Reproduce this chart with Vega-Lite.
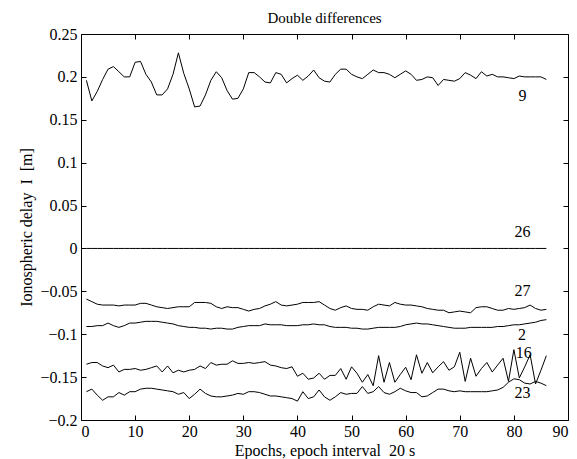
{
  "$schema": "https://vega.github.io/schema/vega-lite/v6.json",
  "width": 487,
  "height": 386,
  "autosize": "none",
  "padding": {"left": 81, "top": 34, "right": 9, "bottom": 39},
  "background": "white",
  "config": {
    "font": "Liberation Serif",
    "view": {"stroke": "black", "strokeWidth": 1},
    "axis": {
      "domain": false,
      "grid": false,
      "ticks": true,
      "tickColor": "black",
      "tickSize": -5,
      "labelPadding": 9,
      "labelFont": "Liberation Serif",
      "labelFontSize": 16,
      "labelColor": "black",
      "titleFont": "Liberation Serif",
      "titleFontSize": 16,
      "titleFontWeight": "normal",
      "titleColor": "black"
    }
  },
  "title": {"text": "Double differences", "fontSize": 15, "fontWeight": "normal", "font": "Liberation Serif", "color": "black", "anchor": "middle", "offset": 0},
  "datasets": {
    "lines": [
      {"e":1,"s9":0.196,"s26":0,"s27":-0.059,"s2":-0.091,"s16":-0.135,"s23":-0.167},
      {"e":2,"s9":0.172,"s26":0,"s27":-0.062,"s2":-0.091,"s16":-0.133,"s23":-0.164},
      {"e":3,"s9":0.183,"s26":0,"s27":-0.065,"s2":-0.090,"s16":-0.133,"s23":-0.171},
      {"e":4,"s9":0.197,"s26":0,"s27":-0.066,"s2":-0.090,"s16":-0.137,"s23":-0.177},
      {"e":5,"s9":0.209,"s26":0,"s27":-0.066,"s2":-0.087,"s16":-0.139,"s23":-0.173},
      {"e":6,"s9":0.212,"s26":0,"s27":-0.066,"s2":-0.090,"s16":-0.136,"s23":-0.173},
      {"e":7,"s9":0.206,"s26":0,"s27":-0.067,"s2":-0.092,"s16":-0.144,"s23":-0.168},
      {"e":8,"s9":0.200,"s26":0,"s27":-0.066,"s2":-0.090,"s16":-0.141,"s23":-0.171},
      {"e":9,"s9":0.200,"s26":0,"s27":-0.066,"s2":-0.087,"s16":-0.141,"s23":-0.167},
      {"e":10,"s9":0.217,"s26":0,"s27":-0.066,"s2":-0.087,"s16":-0.140,"s23":-0.167},
      {"e":11,"s9":0.218,"s26":0,"s27":-0.064,"s2":-0.086,"s16":-0.142,"s23":-0.164},
      {"e":12,"s9":0.203,"s26":0,"s27":-0.064,"s2":-0.085,"s16":-0.141,"s23":-0.163},
      {"e":13,"s9":0.194,"s26":0,"s27":-0.066,"s2":-0.085,"s16":-0.139,"s23":-0.163},
      {"e":14,"s9":0.179,"s26":0,"s27":-0.068,"s2":-0.085,"s16":-0.137,"s23":-0.164},
      {"e":15,"s9":0.179,"s26":0,"s27":-0.069,"s2":-0.086,"s16":-0.144,"s23":-0.165},
      {"e":16,"s9":0.186,"s26":0,"s27":-0.070,"s2":-0.087,"s16":-0.137,"s23":-0.166},
      {"e":17,"s9":0.203,"s26":0,"s27":-0.069,"s2":-0.088,"s16":-0.145,"s23":-0.167},
      {"e":18,"s9":0.228,"s26":0,"s27":-0.068,"s2":-0.090,"s16":-0.142,"s23":-0.170},
      {"e":19,"s9":0.204,"s26":0,"s27":-0.068,"s2":-0.091,"s16":-0.144,"s23":-0.168},
      {"e":20,"s9":0.186,"s26":0,"s27":-0.068,"s2":-0.092,"s16":-0.142,"s23":-0.175},
      {"e":21,"s9":0.165,"s26":0,"s27":-0.063,"s2":-0.092,"s16":-0.141,"s23":-0.170},
      {"e":22,"s9":0.166,"s26":0,"s27":-0.063,"s2":-0.093,"s16":-0.137,"s23":-0.164},
      {"e":23,"s9":0.179,"s26":0,"s27":-0.063,"s2":-0.093,"s16":-0.140,"s23":-0.169},
      {"e":24,"s9":0.196,"s26":0,"s27":-0.064,"s2":-0.094,"s16":-0.133,"s23":-0.172},
      {"e":25,"s9":0.206,"s26":0,"s27":-0.068,"s2":-0.093,"s16":-0.136,"s23":-0.173},
      {"e":26,"s9":0.199,"s26":0,"s27":-0.070,"s2":-0.093,"s16":-0.135,"s23":-0.173},
      {"e":27,"s9":0.184,"s26":0,"s27":-0.068,"s2":-0.094,"s16":-0.135,"s23":-0.172},
      {"e":28,"s9":0.174,"s26":0,"s27":-0.069,"s2":-0.094,"s16":-0.131,"s23":-0.171},
      {"e":29,"s9":0.175,"s26":0,"s27":-0.069,"s2":-0.092,"s16":-0.134,"s23":-0.169},
      {"e":30,"s9":0.186,"s26":0,"s27":-0.071,"s2":-0.091,"s16":-0.134,"s23":-0.170},
      {"e":31,"s9":0.205,"s26":0,"s27":-0.073,"s2":-0.090,"s16":-0.133,"s23":-0.167},
      {"e":32,"s9":0.205,"s26":0,"s27":-0.071,"s2":-0.090,"s16":-0.134,"s23":-0.167},
      {"e":33,"s9":0.200,"s26":0,"s27":-0.070,"s2":-0.090,"s16":-0.133,"s23":-0.168},
      {"e":34,"s9":0.194,"s26":0,"s27":-0.067,"s2":-0.088,"s16":-0.132,"s23":-0.170},
      {"e":35,"s9":0.193,"s26":0,"s27":-0.065,"s2":-0.089,"s16":-0.136,"s23":-0.172},
      {"e":36,"s9":0.205,"s26":0,"s27":-0.062,"s2":-0.089,"s16":-0.137,"s23":-0.172},
      {"e":37,"s9":0.203,"s26":0,"s27":-0.066,"s2":-0.089,"s16":-0.139,"s23":-0.173},
      {"e":38,"s9":0.193,"s26":0,"s27":-0.067,"s2":-0.090,"s16":-0.140,"s23":-0.174},
      {"e":39,"s9":0.198,"s26":0,"s27":-0.066,"s2":-0.090,"s16":-0.138,"s23":-0.175},
      {"e":40,"s9":0.202,"s26":0,"s27":-0.065,"s2":-0.090,"s16":-0.149,"s23":-0.178},
      {"e":41,"s9":0.196,"s26":0,"s27":-0.063,"s2":-0.089,"s16":-0.1455,"s23":-0.167},
      {"e":42,"s9":0.201,"s26":0,"s27":-0.063,"s2":-0.089,"s16":-0.1525,"s23":-0.175},
      {"e":43,"s9":0.208,"s26":0,"s27":-0.063,"s2":-0.088,"s16":-0.151,"s23":-0.173},
      {"e":44,"s9":0.199,"s26":0,"s27":-0.062,"s2":-0.089,"s16":-0.1455,"s23":-0.165},
      {"e":45,"s9":0.195,"s26":0,"s27":-0.066,"s2":-0.089,"s16":-0.1525,"s23":-0.173},
      {"e":46,"s9":0.194,"s26":0,"s27":-0.070,"s2":-0.091,"s16":-0.148,"s23":-0.177},
      {"e":47,"s9":0.203,"s26":0,"s27":-0.072,"s2":-0.092,"s16":-0.148,"s23":-0.173},
      {"e":48,"s9":0.209,"s26":0,"s27":-0.069,"s2":-0.092,"s16":-0.140,"s23":-0.168},
      {"e":49,"s9":0.209,"s26":0,"s27":-0.067,"s2":-0.092,"s16":-0.1525,"s23":-0.170},
      {"e":50,"s9":0.203,"s26":0,"s27":-0.070,"s2":-0.093,"s16":-0.138,"s23":-0.169},
      {"e":51,"s9":0.200,"s26":0,"s27":-0.071,"s2":-0.093,"s16":-0.1455,"s23":-0.169},
      {"e":52,"s9":0.198,"s26":0,"s27":-0.071,"s2":-0.094,"s16":-0.156,"s23":-0.161},
      {"e":53,"s9":0.203,"s26":0,"s27":-0.072,"s2":-0.094,"s16":-0.147,"s23":-0.169},
      {"e":54,"s9":0.208,"s26":0,"s27":-0.068,"s2":-0.093,"s16":-0.160,"s23":-0.167},
      {"e":55,"s9":0.205,"s26":0,"s27":-0.065,"s2":-0.092,"s16":-0.125,"s23":-0.161},
      {"e":56,"s9":0.205,"s26":0,"s27":-0.066,"s2":-0.092,"s16":-0.156,"s23":-0.168},
      {"e":57,"s9":0.203,"s26":0,"s27":-0.067,"s2":-0.092,"s16":-0.133,"s23":-0.170},
      {"e":58,"s9":0.199,"s26":0,"s27":-0.063,"s2":-0.092,"s16":-0.156,"s23":-0.167},
      {"e":59,"s9":0.203,"s26":0,"s27":-0.065,"s2":-0.091,"s16":-0.147,"s23":-0.163},
      {"e":60,"s9":0.207,"s26":0,"s27":-0.066,"s2":-0.089,"s16":-0.1385,"s23":-0.166},
      {"e":61,"s9":0.203,"s26":0,"s27":-0.066,"s2":-0.088,"s16":-0.153,"s23":-0.168},
      {"e":62,"s9":0.196,"s26":0,"s27":-0.067,"s2":-0.087,"s16":-0.124,"s23":-0.168},
      {"e":63,"s9":0.197,"s26":0,"s27":-0.068,"s2":-0.088,"s16":-0.1455,"s23":-0.173},
      {"e":64,"s9":0.200,"s26":0,"s27":-0.070,"s2":-0.088,"s16":-0.133,"s23":-0.172},
      {"e":65,"s9":0.199,"s26":0,"s27":-0.071,"s2":-0.089,"s16":-0.145,"s23":-0.168},
      {"e":66,"s9":0.190,"s26":0,"s27":-0.072,"s2":-0.090,"s16":-0.138,"s23":-0.164},
      {"e":67,"s9":0.197,"s26":0,"s27":-0.072,"s2":-0.091,"s16":-0.132,"s23":-0.164},
      {"e":68,"s9":0.196,"s26":0,"s27":-0.075,"s2":-0.092,"s16":-0.142,"s23":-0.166},
      {"e":69,"s9":0.195,"s26":0,"s27":-0.074,"s2":-0.093,"s16":-0.138,"s23":-0.167},
      {"e":70,"s9":0.198,"s26":0,"s27":-0.073,"s2":-0.093,"s16":-0.121,"s23":-0.166},
      {"e":71,"s9":0.205,"s26":0,"s27":-0.074,"s2":-0.093,"s16":-0.155,"s23":-0.167},
      {"e":72,"s9":0.202,"s26":0,"s27":-0.075,"s2":-0.092,"s16":-0.128,"s23":-0.167},
      {"e":73,"s9":0.198,"s26":0,"s27":-0.069,"s2":-0.092,"s16":-0.149,"s23":-0.167},
      {"e":74,"s9":0.206,"s26":0,"s27":-0.068,"s2":-0.092,"s16":-0.140,"s23":-0.167},
      {"e":75,"s9":0.201,"s26":0,"s27":-0.068,"s2":-0.092,"s16":-0.133,"s23":-0.167},
      {"e":76,"s9":0.203,"s26":0,"s27":-0.070,"s2":-0.092,"s16":-0.144,"s23":-0.166},
      {"e":77,"s9":0.200,"s26":0,"s27":-0.072,"s2":-0.091,"s16":-0.136,"s23":-0.165},
      {"e":78,"s9":0.200,"s26":0,"s27":-0.072,"s2":-0.091,"s16":-0.128,"s23":-0.162},
      {"e":79,"s9":0.199,"s26":0,"s27":-0.070,"s2":-0.090,"s16":-0.155,"s23":-0.156},
      {"e":80,"s9":0.198,"s26":0,"s27":-0.071,"s2":-0.089,"s16":-0.118,"s23":-0.152},
      {"e":81,"s9":0.201,"s26":0,"s27":-0.070,"s2":-0.089,"s16":-0.151,"s23":-0.153},
      {"e":82,"s9":0.200,"s26":0,"s27":-0.069,"s2":-0.088,"s16":-0.138,"s23":-0.157},
      {"e":83,"s9":0.200,"s26":0,"s27":-0.066,"s2":-0.087,"s16":-0.124,"s23":-0.158},
      {"e":84,"s9":0.200,"s26":0,"s27":-0.070,"s2":-0.086,"s16":-0.158,"s23":-0.155},
      {"e":85,"s9":0.200,"s26":0,"s27":-0.072,"s2":-0.084,"s16":-0.142,"s23":-0.157},
      {"e":86,"s9":0.197,"s26":0,"s27":-0.071,"s2":-0.083,"s16":-0.125,"s23":-0.160}
    ],
    "labels": [
      {"e":81.6,"v":0.178,"t":"9"},
      {"e":81.6,"v":0.019,"t":"26"},
      {"e":81.6,"v":-0.050,"t":"27"},
      {"e":81.5,"v":-0.101,"t":"2"},
      {"e":81.8,"v":-0.122,"t":"16"},
      {"e":81.6,"v":-0.169,"t":"23"}
    ]
  },
  "layer": [
    {
      "data": {"name": "lines"},
      "transform": [{"fold": ["s9", "s26", "s27", "s2", "s16", "s23"], "as": ["sat", "v"]}],
      "mark": {"type": "line", "color": "black", "strokeWidth": 1},
      "encoding": {
        "x": {
          "field": "e", "type": "quantitative",
          "scale": {"domain": [0, 90], "nice": false, "zero": false},
          "axis": {"orient": "bottom", "values": [0,10,20,30,40,50,60,70,80,90], "format": "d", "title": "Epochs, epoch interval\u00a0 20 s", "titlePadding": 3, "labelPadding": 8}
        },
        "y": {
          "field": "v", "type": "quantitative",
          "scale": {"domain": [-0.2, 0.25], "nice": false, "zero": false},
          "axis": {"orient": "left", "values": [-0.2,-0.15,-0.1,-0.05,0,0.05,0.1,0.15,0.2,0.25], "format": "~g", "title": "Ionospheric delay\u00a0 I\u00a0 [m]", "titlePadding": 5}
        },
        "detail": {"field": "sat", "type": "nominal"}
      }
    },
    {
      "data": {"name": "labels"},
      "mark": {"type": "text", "fontSize": 16, "font": "Liberation Serif", "color": "black", "align": "center", "baseline": "middle"},
      "encoding": {
        "x": {
          "field": "e", "type": "quantitative",
          "scale": {"domain": [0, 90], "nice": false, "zero": false},
          "axis": {"orient": "top", "values": [0,10,20,30,40,50,60,70,80,90], "labels": false, "title": null}
        },
        "y": {
          "field": "v", "type": "quantitative",
          "scale": {"domain": [-0.2, 0.25], "nice": false, "zero": false},
          "axis": {"orient": "right", "values": [-0.2,-0.15,-0.1,-0.05,0,0.05,0.1,0.15,0.2,0.25], "labels": false, "title": null}
        },
        "text": {"field": "t", "type": "nominal"}
      }
    }
  ],
  "resolve": {"axis": {"x": "independent", "y": "independent"}}
}
